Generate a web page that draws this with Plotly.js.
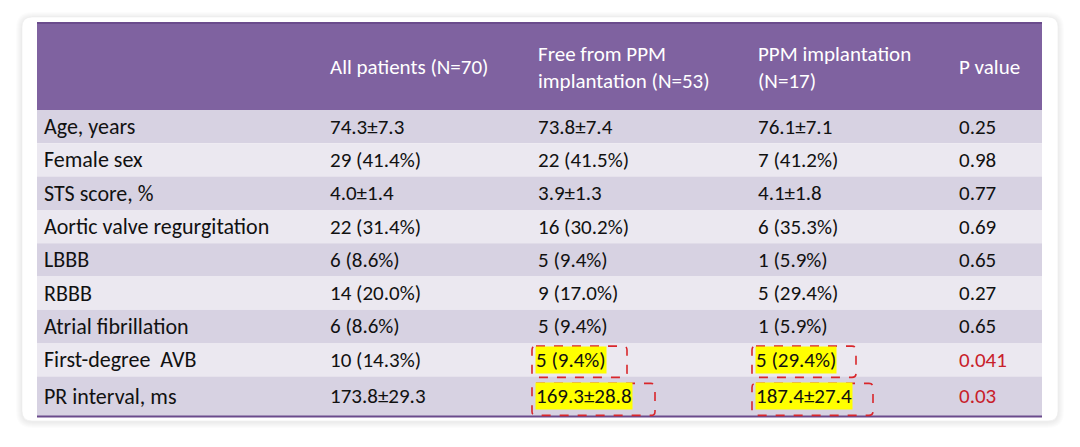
<!DOCTYPE html>
<html>
<head>
<meta charset="utf-8">
<script src="https://cdn.plot.ly/plotly-3.0.1.min.js"></script>
<style>html,body{margin:0;padding:0;background:#fff;}#chart{width:1080px;height:447px;}</style>
</head>
<body>
<div id="chart"></div>
<script>
// ---- data ----
const headers = ["", "All patients (N=70)", "Free from PPM<br>implantation (N=53)", "PPM implantation<br>(N=17)", "P value"];
const rowLabels = ["Age, years", "Female sex", "STS score, %", "Aortic valve regurgitation", "LBBB", "RBBB", "Atrial fibrillation", "First-degree  AVB", "PR interval, ms"];
const allPatients = ["74.3±7.3", "29 (41.4%)", "4.0±1.4", "22 (31.4%)", "6 (8.6%)", "14 (20.0%)", "6 (8.6%)", "10 (14.3%)", "173.8±29.3"];
const freeFromPPM = ["73.8±7.4", "22 (41.5%)", "3.9±1.3", "16 (30.2%)", "5 (9.4%)", "9 (17.0%)", "5 (9.4%)", "5 (9.4%)", "169.3±28.8"];
const ppmImplant = ["76.1±7.1", "7 (41.2%)", "4.1±1.8", "6 (35.3%)", "1 (5.9%)", "5 (29.4%)", "1 (5.9%)", "5 (29.4%)", "187.4±27.4"];
const pValues = ["0.25", "0.98", "0.77", "0.69", "0.65", "0.27", "0.65", "0.041", "0.03"];

// ---- layout constants ----
const W = 1080, H = 447;
const tableL = 37, tableR = 1042, tableT = 22, headB = 110, rowH = 33.3, lastRowH = 40;
const colX = [44, 330, 538, 758, 959];
const FONT = "Carlito";
const FS = 21, FS_LABEL = 22;
const purple = "#7f62a0", purpleDark = "#6a4b8c";
const rowFillA = "#d7d2e2", rowFillB = "#ebe8f0";
const red = "#c8202a";
const dashBoxW = {2: [95, 123], 3: [104, 121]}; // per column: widths for [row8,row9]

function rowTop(i) { return headB + i * rowH; }
function rowBot(i) { return i === rowLabels.length - 1 ? rowTop(i) + lastRowH : rowTop(i) + rowH; }
function rowMid(i) { return (rowTop(i) + rowBot(i)) / 2; }

function rr(x0, y0, x1, y1, r) {
  return `M${x0 + r},${y0} L${x1 - r},${y0} Q${x1},${y0} ${x1},${y0 + r} L${x1},${y1 - r} Q${x1},${y1} ${x1 - r},${y1} L${x0 + r},${y1} Q${x0},${y1} ${x0},${y1 - r} L${x0},${y0 + r} Q${x0},${y0} ${x0 + r},${y0} Z`;
}

const shapes = [];
for (let k = 6; k >= 1; k--) {
  shapes.push({type: "path", path: rr(22 - k, 17 - k + 1, 1058 + k, 421 + k + 1, 10 + k), fillcolor: "rgba(0,0,0,0.012)", line: {width: 0}, layer: "below"});
}
shapes.push({type: "path", path: rr(22, 17, 1058, 421, 10), fillcolor: "#ffffff", line: {width: 0.6, color: "#ececec"}, layer: "below"});
shapes.push({type: "rect", x0: tableL, x1: tableR, y0: tableT, y1: headB, fillcolor: purple, line: {width: 0}, layer: "below"});
shapes.push({type: "line", x0: tableL, x1: tableR, y0: tableT + 1, y1: tableT + 1, line: {width: 2, color: purpleDark}, layer: "below"});
rowLabels.forEach((_, i) => {
  shapes.push({type: "rect", x0: tableL, x1: tableR, y0: rowTop(i), y1: rowBot(i), fillcolor: i % 2 === 0 ? rowFillA : rowFillB, line: {width: 0}, layer: "below"});
});
const lastB = rowBot(rowLabels.length - 1);
shapes.push({type: "line", x0: tableL, x1: tableR, y0: lastB, y1: lastB, line: {width: 2, color: purpleDark}, layer: "below"});

const annotations = [];
function txt(x, y, text, color, size, extra) {
  annotations.push(Object.assign({x: x, y: y, xref: "x", yref: "y", text: text, showarrow: false, xanchor: "left", yanchor: "middle", align: "left",
    font: {family: FONT, size: size, color: color}}, extra || {}));
}
headers.forEach((h, c) => { if (h) txt(colX[c] - 2, (tableT + headB) / 2 + 1, h, "#ffffff", FS); });

const cols = [rowLabels, allPatients, freeFromPPM, ppmImplant, pValues];
let sigCount = 0;
rowLabels.forEach((_, i) => {
  const sig = parseFloat(pValues[i]) < 0.05;
  cols.forEach((arr, c) => {
    if (sig && (c === 2 || c === 3)) {
      txt(colX[c] - 3, rowMid(i), arr[i], "#111111", FS, {bgcolor: "#ffff00", borderpad: 0});
      const w = dashBoxW[c][sigCount];
      const isLast = i === rowLabels.length - 1;
      const y0 = isLast ? rowTop(i) + 7 : rowTop(i) + 3;
      const y1 = isLast ? rowBot(i) - 1 : rowBot(i) + 1;
      shapes.push({type: "path", path: rr(colX[c] - 6, y0, colX[c] - 6 + w, y1, 4), line: {color: "#d9262b", width: 1.6, dash: "dash"}, fillcolor: "rgba(0,0,0,0)", layer: "above"});
    } else {
      txt(colX[c] - 2, rowMid(i), arr[i], c === 4 && sig ? red : "#111111", c === 0 ? FS_LABEL : FS);
    }
  });
  if (sig) sigCount++;
});

const layout = {
  width: W, height: H, margin: {l: 0, r: 0, t: 0, b: 0},
  paper_bgcolor: "#ffffff", plot_bgcolor: "rgba(0,0,0,0)",
  xaxis: {range: [0, W], visible: false, fixedrange: true},
  yaxis: {range: [H, 0], visible: false, fixedrange: true},
  shapes: shapes, annotations: annotations, showlegend: false
};
Plotly.newPlot("chart", [{x: [], y: [], type: "scatter", mode: "markers", hoverinfo: "skip"}], layout, {staticPlot: true, displayModeBar: false});
</script>
</body>
</html>
